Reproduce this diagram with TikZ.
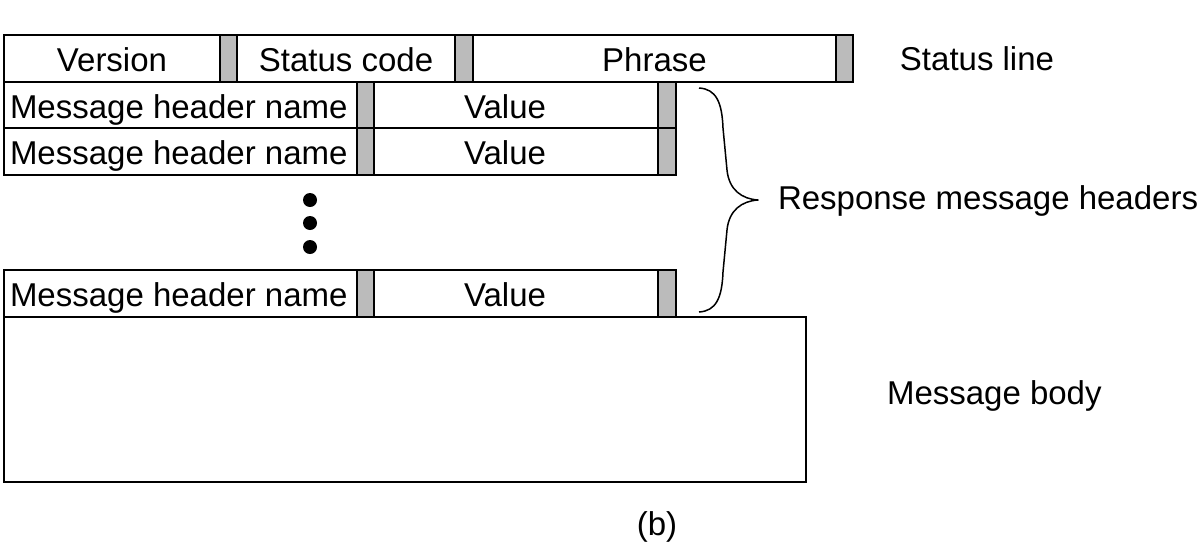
\documentclass[tikz,border=0pt]{standalone}
\usepackage{fontspec}
\setmainfont{Liberation Sans}
\definecolor{bargray}{RGB}{187,187,187}
\begin{document}
\begin{tikzpicture}[x=1pt,y=-1pt,
  every node/.style={font=\fontsize{33}{38}\selectfont, inner sep=0pt, outer sep=0pt},
  cell/.style={draw=black, line width=1.5pt, fill=white, anchor=north west, minimum height=#1, text height=26pt, text depth=0pt},
  cell/.default=47,
  bar/.style={draw=black, line width=1.5pt, fill=bargray, anchor=north west, minimum width=17, minimum height=#1},
  bar/.default=47,
  lbl/.style={anchor=west},
  dot/.style={circle, fill=black, minimum size=14pt}]
\useasboundingbox (0,0) rectangle (1201,544);
% status line
\node[cell, minimum width=216] (ver) at (4,35) {Version};
\node[bar] (b1) at (220,35) {};
\node[cell, minimum width=218] (sc) at (237,35) {Status code};
\node[bar, minimum width=18] (b2) at (455,35) {};
\node[cell, minimum width=363] (ph) at (473,35) {Phrase};
\node[bar] (b3) at (836,35) {};
% header rows
\foreach \r/\y in {1/82, 2/128, 3/270}{
  \node[cell, minimum width=353] (n\r) at (4,\y) {\makebox[341pt][l]{Message header name}};
  \node[bar] (g\r) at (357,\y) {};
  \node[cell, minimum width=284] (v\r) at (374,\y) {\hspace*{-22pt}Value};
  \node[bar, minimum width=18] (h\r) at (658,\y) {};
}
% dots
\node[dot] (d1) at (310,200) {};
\node[dot] (d2) at (310,223) {};
\node[dot] (d3) at (310,247) {};
% body
\node[cell, minimum width=802, minimum height=165] (body) at (4,317) {};
% brace
\draw[line width=1.5pt, line join=round]
  (699,88) .. controls (716,89) and (722,102) .. (723,128)
  -- (727,170) .. controls (729,190) and (742,199) .. (758,200)
  .. controls (742,201) and (729,210) .. (727,230)
  -- (723,272) .. controls (722,298) and (716,311) .. (699,312);
% labels
\node (sl) at (977,59) {Status line};
\node[lbl] (rmh) at (778,201) {Response message headers};
\node[lbl] (mb) at (887,396) {Message body};
\node (cap) at (657,527) {(b)};
\end{tikzpicture}
\end{document}
